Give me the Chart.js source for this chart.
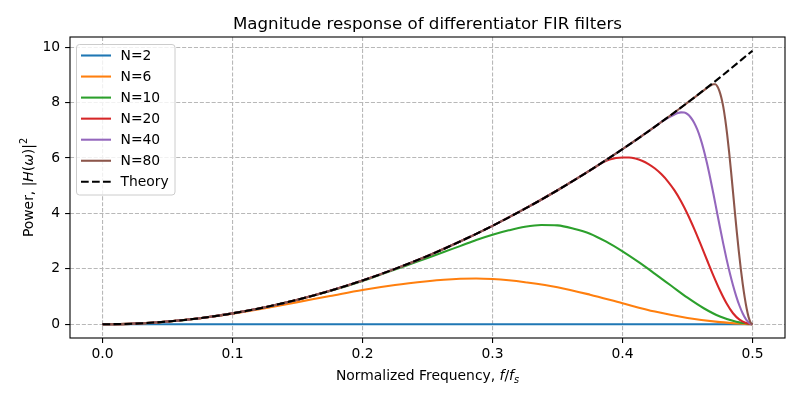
<!DOCTYPE html>
<html>
<head>
<meta charset="utf-8">
<title>Magnitude response of differentiator FIR filters</title>
<script src="https://cdn.jsdelivr.net/npm/chart.js@4.4.1/dist/chart.umd.min.js"></script>
<style>
  html, body { margin: 0; padding: 0; background: #fff; }
  #chart { display: block; }
</style>
</head>
<body>
<canvas id="chart" width="800" height="400"></canvas>
<script>
// ===== DATA =====
const xTicks = [0, 0.1, 0.2, 0.3, 0.4, 0.5];
const xTickLabels = ["0.0", "0.1", "0.2", "0.3", "0.4", "0.5"];
const yTicks = [0, 2, 4, 6, 8, 10];
const yTickLabels = ["0", "2", "4", "6", "8", "10"];

const seriesNames = ["N=2", "N=6", "N=10", "N=20", "N=40", "N=80", "Theory"];

const freqTheory = [0, 0.025, 0.05, 0.075, 0.1, 0.125, 0.15, 0.175, 0.2, 0.225, 0.25, 0.275, 0.3, 0.325, 0.35, 0.375, 0.4, 0.425, 0.45, 0.475, 0.5];
const powerTheory = [0, 0.025, 0.099, 0.222, 0.395, 0.617, 0.888, 1.209, 1.579, 1.999, 2.467, 2.986, 3.553, 4.17, 4.836, 5.552, 6.317, 7.131, 7.994, 8.907, 9.87];

const freqN2 = [0, 0.25, 0.5];
const powerN2 = [0, 0, 0];

const freqN6 = [0, 0.025, 0.05, 0.075, 0.1, 0.125, 0.15, 0.175, 0.2, 0.225, 0.25, 0.2625, 0.275, 0.2875, 0.3, 0.3125, 0.325, 0.35, 0.375, 0.4, 0.425, 0.45, 0.475, 0.5];
const powerN6 = [0, 0.025, 0.098, 0.218, 0.38, 0.58, 0.8, 1.02, 1.24, 1.42, 1.555, 1.61, 1.645, 1.655, 1.635, 1.59, 1.52, 1.34, 1.07, 0.76, 0.46, 0.23, 0.08, 0];

const freqN10 = [0, 0.025, 0.05, 0.075, 0.1, 0.125, 0.15, 0.175, 0.2, 0.2125, 0.225, 0.2375, 0.25, 0.2625, 0.275, 0.2875, 0.3, 0.3125, 0.325, 0.3375, 0.35, 0.3625, 0.375, 0.3875, 0.4, 0.4125, 0.425, 0.4375, 0.45, 0.4625, 0.475, 0.4875, 0.5];
const powerN10 = [0, 0.025, 0.099, 0.222, 0.394, 0.615, 0.885, 1.2, 1.565, 1.77, 1.975, 2.185, 2.395, 2.61, 2.82, 3.04, 3.23, 3.39, 3.52, 3.585, 3.57, 3.45, 3.27, 2.98, 2.63, 2.24, 1.82, 1.39, 0.96, 0.58, 0.28, 0.09, 0];

const freqN20 = [0, 0.025, 0.05, 0.075, 0.1, 0.125, 0.15, 0.175, 0.2, 0.225, 0.25, 0.275, 0.3, 0.325, 0.35, 0.375, 0.38, 0.385, 0.39, 0.395, 0.4, 0.405, 0.41, 0.415, 0.42, 0.425, 0.43, 0.435, 0.44, 0.445, 0.45, 0.455, 0.46, 0.465, 0.47, 0.475, 0.48, 0.485, 0.49, 0.495, 0.5];
const powerN20 = [0, 0.025, 0.099, 0.222, 0.395, 0.617, 0.888, 1.209, 1.579, 1.999, 2.467, 2.986, 3.553, 4.17, 4.836, 5.552, 5.7, 5.84, 5.94, 6.0, 6.02, 6.02, 5.98, 5.9, 5.78, 5.62, 5.41, 5.15, 4.83, 4.44, 3.98, 3.46, 2.9, 2.32, 1.75, 1.22, 0.76, 0.4, 0.17, 0.05, 0];

const freqN40 = [0, 0.025, 0.05, 0.075, 0.1, 0.125, 0.15, 0.175, 0.2, 0.225, 0.25, 0.275, 0.3, 0.325, 0.35, 0.375, 0.4, 0.425, 0.43, 0.435, 0.44, 0.4425, 0.445, 0.4475, 0.45, 0.4525, 0.455, 0.4575, 0.46, 0.4625, 0.465, 0.4675, 0.47, 0.4725, 0.475, 0.4775, 0.48, 0.4825, 0.485, 0.4875, 0.49, 0.4925, 0.495, 0.4975, 0.5];
const powerN40 = [0, 0.025, 0.099, 0.222, 0.395, 0.617, 0.888, 1.209, 1.579, 1.999, 2.467, 2.986, 3.553, 4.17, 4.836, 5.552, 6.317, 7.131, 7.3, 7.45, 7.57, 7.62, 7.645, 7.64, 7.58, 7.46, 7.28, 7.03, 6.7, 6.29, 5.81, 5.27, 4.69, 4.09, 3.49, 2.91, 2.36, 1.86, 1.41, 1.01, 0.67, 0.39, 0.18, 0.05, 0];

const freqN80 = [0, 0.025, 0.05, 0.075, 0.1, 0.125, 0.15, 0.175, 0.2, 0.225, 0.25, 0.275, 0.3, 0.325, 0.35, 0.375, 0.4, 0.425, 0.45, 0.4575, 0.465, 0.4675, 0.47, 0.4715, 0.473, 0.4745, 0.476, 0.4775, 0.479, 0.4805, 0.482, 0.4835, 0.485, 0.4865, 0.488, 0.4895, 0.491, 0.4925, 0.494, 0.4955, 0.497, 0.4985, 0.5];
const powerN80 = [0, 0.025, 0.099, 0.222, 0.395, 0.617, 0.888, 1.209, 1.579, 1.999, 2.467, 2.986, 3.553, 4.17, 4.836, 5.552, 6.317, 7.131, 7.994, 8.26, 8.53, 8.61, 8.66, 8.66, 8.58, 8.42, 8.18, 7.85, 7.4, 6.85, 6.22, 5.52, 4.78, 4.02, 3.3, 2.62, 2.0, 1.45, 0.97, 0.57, 0.26, 0.07, 0];

// ===== STYLE =====
const FONT = "'DejaVu Sans', 'Liberation Sans', sans-serif";
const colors = ["#1f77b4", "#ff7f0e", "#2ca02c", "#d62728", "#9467bd", "#8c564b", "#000000"];
const LINE_W = 2.08;            // 1.5 pt at 100 dpi
const theoryDash = [7.7, 3.3];

function toPoints(xs, ys) {
    return xs.map((x, i) => ({ x: x, y: ys[i] }));
}

const seriesData = [
    toPoints(freqN2, powerN2),
    toPoints(freqN6, powerN6),
    toPoints(freqN10, powerN10),
    toPoints(freqN20, powerN20),
    toPoints(freqN40, powerN40),
    toPoints(freqN80, powerN80),
    toPoints(freqTheory, powerTheory),
];

const datasets = seriesData.map((pts, i) => ({
    label: seriesNames[i],
    data: pts,
    borderColor: colors[i],
    backgroundColor: colors[i],
    borderWidth: LINE_W,
    borderDash: i === 6 ? theoryDash : [],
    pointRadius: 0,
    fill: false,
    cubicInterpolationMode: "monotone",
    order: 6 - i, // last series on top, like matplotlib
}));

// draw text made of plain / italic / sub / superscript pieces, centred on x
function drawRich(ctx, parts, x, y, size) {
    const widths = parts.map(p => {
        ctx.font = `${p[1] ? "italic " : ""}${size * p[2]}px ${FONT}`;
        return ctx.measureText(p[0]).width;
    });
    let cx = x - widths.reduce((a, b) => a + b, 0) / 2;
    parts.forEach((p, i) => {
        ctx.font = `${p[1] ? "italic " : ""}${size * p[2]}px ${FONT}`;
        ctx.fillText(p[0], cx, y - p[3] * size);
        cx += widths[i];
    });
}

// ===== TITLE, AXIS LABELS, FRAME, LEGEND =====
const decorPlugin = {
    id: "decor",
    afterDraw(chart) {
        const ctx = chart.ctx;
        const a = chart.chartArea;
        ctx.save();

        // frame (all four spines)
        ctx.strokeStyle = "#000";
        ctx.lineWidth = 1.1;
        ctx.strokeRect(a.left, a.top, a.right - a.left, a.bottom - a.top);

        const midX = (a.left + a.right) / 2;
        const midY = (a.top + a.bottom) / 2;
        ctx.fillStyle = "#000";
        ctx.textBaseline = "alphabetic";
        ctx.textAlign = "left";

        // title
        drawRich(ctx, [["Magnitude response of differentiator FIR filters", false, 1, 0]], midX, 29, 16.67);

        // x label
        drawRich(ctx, [
            ["Normalized Frequency, ", false, 1, 0],
            ["f", true, 1, 0],
            ["/", false, 1, 0],
            ["f", true, 1, 0],
            ["s", true, 0.7, -0.2],
        ], midX, 380, 13.89);

        // y label
        ctx.save();
        ctx.translate(33, midY);
        ctx.rotate(-Math.PI / 2);
        drawRich(ctx, [
            ["Power, |", false, 1, 0],
            ["H", true, 1, 0],
            ["(", false, 1, 0],
            ["ω", true, 1, 0],
            [")|", false, 1, 0],
            ["2", false, 0.7, 0.45],
        ], 0, 0, 13.89);
        ctx.restore();

        // legend box
        const bx = 76.5, by = 44.5, bw = 98.5, bh = 150.5, r = 3;
        ctx.beginPath();
        ctx.moveTo(bx + r, by);
        ctx.arcTo(bx + bw, by, bx + bw, by + bh, r);
        ctx.arcTo(bx + bw, by + bh, bx, by + bh, r);
        ctx.arcTo(bx, by + bh, bx, by, r);
        ctx.arcTo(bx, by, bx + bw, by, r);
        ctx.closePath();
        ctx.fillStyle = "rgba(255,255,255,0.8)";
        ctx.fill();
        ctx.strokeStyle = "#cccccc";
        ctx.lineWidth = 1;
        ctx.stroke();

        ctx.font = `13.89px ${FONT}`;
        ctx.textBaseline = "middle";
        seriesNames.forEach((name, i) => {
            const y = 55.5 + i * 21.05;
            ctx.beginPath();
            ctx.setLineDash(i === 6 ? theoryDash : []);
            ctx.strokeStyle = colors[i];
            ctx.lineWidth = LINE_W;
            ctx.moveTo(81, y);
            ctx.lineTo(111, y);
            ctx.stroke();
            ctx.setLineDash([]);
            ctx.fillStyle = "#000";
            ctx.fillText(name, 120.5, y + 0.5);
        });

        ctx.restore();
    },
};

const gridColor = "#b8b8b8";

new Chart(document.getElementById("chart"), {
    type: "line",
    data: { datasets: datasets },
    options: {
        responsive: false,
        animation: false,
        events: [],
        layout: { padding: { left: 0, right: 15, top: 37, bottom: 0 } },
        plugins: {
            legend: { display: false },
            title: { display: false },
            tooltip: { enabled: false },
        },
        scales: {
            x: {
                type: "linear",
                min: -0.025,
                max: 0.525,
                afterBuildTicks: axis => { axis.ticks = xTicks.map(v => ({ value: v })); },
                afterFit: axis => { axis.height = 62; },
                ticks: {
                    color: "#000",
                    font: { family: FONT, size: 13.89 },
                    padding: 3,
                    maxRotation: 0,
                    autoSkip: false,
                    callback: (v) => xTickLabels[xTicks.indexOf(v)],
                },
                grid: {
                    color: gridColor,
                    lineWidth: 1.1,
                    tickColor: "#000",
                    tickLength: 4.9,
                    tickWidth: 1.1,
                },
                border: { display: false, dash: [4.1, 1.8] },
            },
            y: {
                type: "linear",
                min: -0.4935,
                max: 10.3635,
                afterBuildTicks: axis => { axis.ticks = yTicks.map(v => ({ value: v })); },
                afterFit: axis => { axis.width = 70; },
                ticks: {
                    color: "#000",
                    font: { family: FONT, size: 13.89 },
                    padding: 4.9,
                    autoSkip: false,
                    callback: (v) => yTickLabels[yTicks.indexOf(v)],
                },
                grid: {
                    color: gridColor,
                    lineWidth: 1.1,
                    tickColor: "#000",
                    tickLength: 4.9,
                    tickWidth: 1.1,
                },
                border: { display: false, dash: [4.1, 1.8] },
            },
        },
    },
    plugins: [decorPlugin],
});
</script>
</body>
</html>
